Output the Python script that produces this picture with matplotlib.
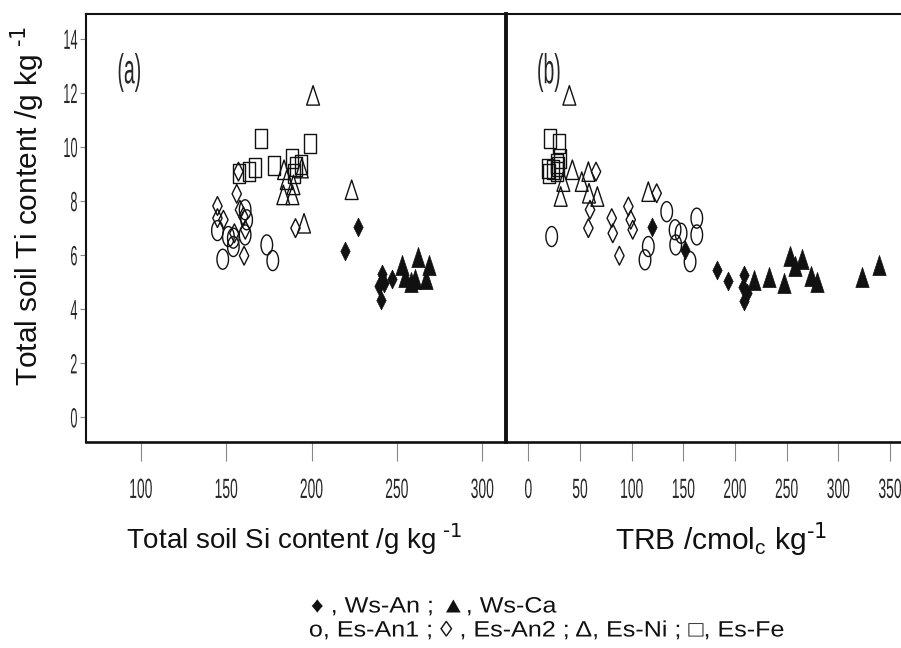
import numpy as np
import matplotlib
matplotlib.use("Agg")
import matplotlib.pyplot as plt
from matplotlib.path import Path
from matplotlib.patheffects import AbstractPathEffect
from matplotlib.transforms import Affine2D

# ---------------- data ----------------
# panel (a): total Si (g/kg) vs total Ti (g/kg)
wsan_si = [227.2, 219.8, 241.0, 239.3, 240.6, 247.0, 242.2]
wsan_ti_a = [7.04, 6.16, 5.30, 4.85, 4.35, 5.10, 4.95]
wsca_si = [252.8, 254.7, 262.6, 269.0, 260.6, 267.0, 258.0]
wsca_ti_a = [5.63, 5.20, 5.92, 5.61, 5.10, 5.10, 5.01]
esan1_si = [144.9, 151.3, 154.2, 154.2, 161.1, 161.1, 162.0, 148.0, 173.8, 177.3]
esan1_ti_a = [6.90, 6.68, 6.31, 6.62, 6.74, 7.67, 7.30, 5.84, 6.37, 5.79]
esan2_si = [157.2, 156.2, 144.9, 144.9, 148.4, 158.1, 160.1, 160.5, 154.8, 161.2, 190.6]
esan2_ti_a = [9.08, 8.26, 7.81, 7.36, 7.30, 7.67, 7.42, 5.97, 6.80, 6.93, 6.99]
esni_si = [183.9, 185.5, 183.5, 188.8, 189.4, 194.3, 195.6, 223.5, 200.9]
esni_ti_a = [9.15, 8.78, 8.22, 8.22, 8.59, 9.21, 7.17, 8.41, 11.9]
esfe_si = [170.6, 198.9, 166.9, 163.4, 157.7, 178.2, 188.6, 190.7, 194.0, 189.9]
esfe_ti_a = [10.29, 10.13, 9.23, 9.08, 9.02, 9.29, 9.58, 9.27, 9.33, 9.02]

# panel (b): TRB (cmolc/kg) vs total Ti (g/kg)
wsan_trb = [119.7, 151.6, 182.3, 193.0, 208.7, 208.0, 211.3, 209.0]
wsan_ti_b = [7.05, 6.19, 5.45, 5.02, 5.26, 4.83, 4.59, 4.28]
wsca_trb = [218.4, 233.2, 247.7, 273.3, 279.7, 322.9, 339.7, 253.2, 264.6, 258.1]
wsca_ti_b = [5.08, 5.18, 4.96, 5.23, 4.98, 5.20, 5.63, 5.95, 5.85, 5.60]
esan1_trb = [22.6, 133.9, 116.1, 112.9, 142.0, 147.8, 142.6, 156.5, 163.0, 163.0]
esan1_ti_b = [6.68, 7.60, 6.31, 5.82, 6.93, 6.80, 6.37, 5.75, 6.74, 7.36]
esan2_trb = [65.5, 59.7, 58.1, 80.7, 81.7, 96.8, 99.1, 101.0, 88.1, 124.2]
esan2_ti_b = [9.08, 7.67, 6.99, 7.36, 6.80, 7.79, 7.30, 6.93, 5.97, 8.28]
esni_trb = [39.7, 33.9, 31.3, 42.6, 51.7, 58.1, 58.7, 66.8, 116.1]
esni_ti_b = [11.9, 8.71, 8.16, 9.15, 8.71, 9.08, 8.28, 8.16, 8.34]
esfe_trb = [21.0, 29.7, 30.7, 27.5, 20.3, 24.2, 28.1, 29.0, 19.4]
esfe_ti_b = [10.32, 10.13, 9.58, 9.39, 9.02, 9.15, 9.08, 9.27, 9.21]

yticks = [0, 2, 4, 6, 8, 10, 12, 14]
xticks_a = [100, 150, 200, 250, 300]
xticks_b = [0, 50, 100, 150, 200, 250, 300, 350]

legend_line1 = "\u2666 , Ws-An ; \u25B2, Ws-Ca"
legend_line2 = "o, Es-An1 ; \u25CA , Es-An2 ; \u0394, Es-Ni ; \u25A1, Es-Fe"

# ---------------- helpers ----------------
class Stretch(AbstractPathEffect):
    """Scale text glyphs (condensed/tall typeface look) about an anchor."""
    def __init__(self, sx=1.0, sy=1.0, anchor="center"):
        super().__init__()
        self.sx = sx
        self.sy = sy
        self.anchor = anchor

    def draw_path(self, renderer, gc, tpath, affine, rgbFace=None):
        ext = tpath.get_extents()
        if self.anchor == "right":
            cx = ext.x1
        elif self.anchor == "left":
            cx = ext.x0
        else:
            cx = 0.5 * (ext.x0 + ext.x1)
        cy = 0.5 * (ext.y0 + ext.y1)
        pre = Affine2D().translate(-cx, -cy).scale(self.sx, self.sy).translate(cx, cy)
        renderer.draw_path(gc, tpath, pre + affine, rgbFace)


def closed(verts):
    verts = list(verts) + [verts[0]]
    codes = [Path.MOVETO] + [Path.LINETO] * (len(verts) - 2) + [Path.CLOSEPOLY]
    return Path(verts, codes)

t = np.linspace(0, 2 * np.pi, 41)
m_ellipse = closed(list(zip(0.29 * np.cos(t[:-1]), 0.5 * np.sin(t[:-1]))))
m_diamond = closed([(0, 0.5), (0.25, 0), (0, -0.5), (-0.25, 0)])
m_tri = closed([(0, 0.5), (0.33, -0.5), (-0.33, -0.5)])
m_square = closed([(-0.31, -0.5), (0.31, -0.5), (0.31, 0.5), (-0.31, 0.5)])

plt.rcParams["font.family"] = ["Liberation Sans", "DejaVu Sans"]
plt.rcParams["mathtext.default"] = "regular"

W, H = 901, 648
fig = plt.figure(figsize=(W / 100, H / 100), dpi=100)
fig.patch.set_facecolor("white")

L, M, R = 86.3 / W, 505.7 / W, 1.0
B, T = 1 - 442.3 / H, 1 - 14.0 / H
ax1 = fig.add_axes([L, B, M - L, T - B])
ax2 = fig.add_axes([M, B, R - M, T - B])

ink = "#111111"
lw_open = 1.0

def draw(ax, xs_list, ys_list):
    (x1, y1), (x2, y2), (x3, y3), (x4, y4), (x5, y5), (x6, y6) = zip(xs_list, ys_list)
    ax.scatter(x3, y3, marker=m_ellipse, s=14.4 ** 2, facecolors="none", edgecolors=ink, linewidths=lw_open, zorder=3)
    ax.scatter(x4, y4, marker=m_diamond, s=13.5 ** 2, facecolors="none", edgecolors=ink, linewidths=lw_open, zorder=3)
    ax.scatter(x6, y6, marker=m_square, s=13.7 ** 2, facecolors="none", edgecolors=ink, linewidths=lw_open, zorder=3)
    ax.scatter(x5, y5, marker=m_tri, s=14.0 ** 2, facecolors="none", edgecolors=ink, linewidths=lw_open, zorder=3)
    ax.scatter(x1, y1, marker=m_diamond, s=13.5 ** 2, facecolors=ink, edgecolors=ink, linewidths=0.5, zorder=4)
    ax.scatter(x2, y2, marker=m_tri, s=14.5 ** 2, facecolors=ink, edgecolors=ink, linewidths=0.5, zorder=4)

draw(ax1,
     [wsan_si, wsca_si, esan1_si, esan2_si, esni_si, esfe_si],
     [wsan_ti_a, wsca_ti_a, esan1_ti_a, esan2_ti_a, esni_ti_a, esfe_ti_a])
draw(ax2,
     [wsan_trb, wsca_trb, esan1_trb, esan2_trb, esni_trb, esfe_trb],
     [wsan_ti_b, wsca_ti_b, esan1_ti_b, esan2_ti_b, esni_ti_b, esfe_ti_b])

for ax in (ax1, ax2):
    ax.set_ylim(-0.93, 14.91)
ax1.set_xlim(68.1, 313.7)
ax2.set_xlim(-21.9, 360.6)

# spines
for ax in (ax1, ax2):
    for s in ax.spines.values():
        s.set_color(ink)
        s.set_linewidth(1.5)
ax1.spines["right"].set_visible(False)
ax2.spines["right"].set_visible(False)
ax2.spines["left"].set_linewidth(2.8)
ax1.spines["bottom"].set_linewidth(1.9)
ax2.spines["bottom"].set_linewidth(1.9)

tick_font = dict(fontsize=10, color="#262626")
ax1.set_yticks(yticks)
ax1.set_yticklabels([str(v) for v in yticks], **tick_font)
ax1.tick_params(axis="y", length=4.3, width=0.8, color="#888888", pad=2.0, direction="out")
ax2.set_yticks([])

ax1.set_xticks(xticks_a)
ax1.set_xticklabels([str(v) for v in xticks_a], **tick_font)
ax2.set_xticks(xticks_b)
ax2.set_xticklabels([str(v) for v in xticks_b], **tick_font)
for ax in (ax1, ax2):
    ax.tick_params(axis="x", length=13.7, width=0.8, color="#888888", pad=15.0, direction="out")

for lbl in ax1.get_yticklabels():
    lbl.set_path_effects([Stretch(0.92, 2.0, "right")])
for ax in (ax1, ax2):
    for lbl in ax.get_xticklabels():
        lbl.set_path_effects([Stretch(1.0, 2.0, "center")])

# panel letters
for txt, cx in (("(a)", 129.5), ("(b)", 549.0)):
    fig.text(cx / W, 1 - 73 / H, txt, fontsize=14, color="#262626", ha="center", va="center",
             path_effects=[Stretch(1.0, 2.15, "center")])

# axis labels
fig.text(27.5 / W, 1 - 206 / H, r"Total soil Ti content /g kg$^{\text{ -1}}$", rotation=90,
         fontsize=21.5, color=ink, ha="center", va="center")
fig.text(294.5 / W, 1 - 549 / H, r"Total soil Si content /g kg$^{\text{ -1}}$",
         fontsize=20, color=ink, ha="center", va="baseline")
fig.text(721 / W, 1 - 549 / H, r"TRB /cmol$_{c}$ kg$^{\text{-1}}$",
         fontsize=21.5, color=ink, ha="center", va="baseline")

# legend text
fig.text(311 / W, 1 - 607 / H, legend_line1, fontsize=16, color=ink, ha="left", va="center",
         path_effects=[Stretch(1.13, 1.0, "left")])
fig.text(309 / W, 1 - 631 / H, legend_line2, fontsize=16, color=ink, ha="left", va="center",
         path_effects=[Stretch(1.13, 1.0, "left")])

fig.savefig("out.png", dpi=100, facecolor="white")
